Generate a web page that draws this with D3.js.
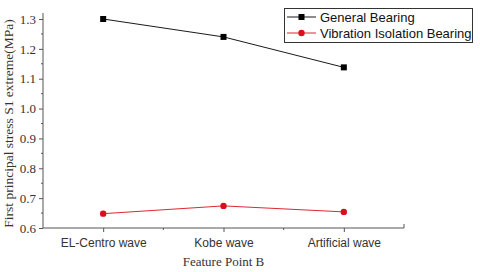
<!DOCTYPE html>
<html>
<head>
<meta charset="utf-8">
<script src="https://cdn.jsdelivr.net/npm/d3@7"></script>
<style>
  body { margin: 0; background: #fff; }
  svg { display: block; }
</style>
</head>
<body>
<script>
// chart data
const categories = ['EL-Centro wave', 'Kobe wave', 'Artificial wave'];
const generalBearing = [1.30, 1.24, 1.138];
const isolationBearing = [0.648, 0.674, 0.654];
const yTicks = [0.6, 0.7, 0.8, 0.9, 1.0, 1.1, 1.2, 1.3];

const width = 480, height = 272;
const plotLeft = 43, plotRight = 404, plotTop = 19, plotBottom = 228;

const svg = d3.select('body').append('svg')
  .attr('width', width)
  .attr('height', height);

const x = d3.scalePoint()
  .domain(categories)
  .range([plotLeft, plotRight])
  .padding(0.5);

const y = d3.scaleLinear()
  .domain([0.6, 1.3])
  .range([plotBottom, plotTop]);

const axisColor = '#555';

// y axis
const yAxis = svg.append('g')
  .attr('transform', `translate(${plotLeft},0)`)
  .call(d3.axisLeft(y).tickValues(yTicks).tickFormat(d3.format('.1f')).tickSize(4).tickPadding(3));
yAxis.select('.domain').attr('stroke', axisColor).attr('d', `M0,${plotBottom}V${plotTop - 6}`);
yAxis.selectAll('.tick line').attr('stroke', axisColor);
yAxis.selectAll('text')
  .style('font-family', '"Liberation Serif", "Times New Roman", serif')
  .style('font-size', '13px')
  .attr('fill', '#333');

// y minor ticks
svg.append('g')
  .selectAll('line')
  .data(yTicks.slice(0, -1).map(d => d + 0.05))
  .enter()
  .append('line')
  .attr('x1', plotLeft - 2)
  .attr('x2', plotLeft)
  .attr('y1', d => y(d))
  .attr('y2', d => y(d))
  .attr('stroke', axisColor);

// x axis
const xAxis = svg.append('g')
  .attr('transform', `translate(0,${plotBottom})`)
  .call(d3.axisBottom(x).tickSize(4).tickPadding(6));
xAxis.select('.domain').attr('stroke', axisColor).attr('d', `M${plotLeft},0H${plotRight}V-4`);
xAxis.selectAll('.tick line').attr('stroke', axisColor);
xAxis.selectAll('text')
  .style('font-family', '"Liberation Sans", Arial, sans-serif')
  .style('font-size', '12px')
  .attr('fill', '#333');

// x minor ticks between categories
const step = x.step();
svg.append('g')
  .selectAll('line')
  .data(categories.slice(0, -1))
  .enter()
  .append('line')
  .attr('x1', d => x(d) + step / 2)
  .attr('x2', d => x(d) + step / 2)
  .attr('y1', plotBottom)
  .attr('y2', plotBottom + 2)
  .attr('stroke', axisColor);

// axis titles
svg.append('text')
  .attr('transform', `translate(13,${(plotTop + plotBottom) / 2}) rotate(-90)`)
  .attr('text-anchor', 'middle')
  .style('font-family', '"Liberation Serif", "Times New Roman", serif')
  .style('font-size', '13.5px')
  .attr('fill', '#333')
  .text('First principal stress S1 extreme(MPa)');

svg.append('text')
  .attr('x', x(categories[1]))
  .attr('y', 266)
  .attr('text-anchor', 'middle')
  .style('font-family', '"Liberation Serif", "Times New Roman", serif')
  .style('font-size', '13px')
  .attr('fill', '#333')
  .text('Feature Point B');

// series
const series = [
  { name: 'General Bearing', values: generalBearing, color: '#000', marker: 'square' },
  { name: 'Vibration Isolation Bearing', values: isolationBearing, color: '#d8101c', marker: 'circle' }
];

const line = d3.line()
  .x((d, i) => x(categories[i]))
  .y(d => y(d));

function drawMarker(g, s, cx, cy) {
  if (s.marker === 'square') {
    g.append('rect')
      .attr('x', cx - 3).attr('y', cy - 3)
      .attr('width', 6).attr('height', 6)
      .attr('fill', s.color);
  } else {
    g.append('circle')
      .attr('cx', cx).attr('cy', cy).attr('r', 3.2)
      .attr('fill', s.color);
  }
}

series.forEach(s => {
  const g = svg.append('g');
  g.append('path')
    .datum(s.values)
    .attr('fill', 'none')
    .attr('stroke', s.color)
    .attr('stroke-width', 0.9)
    .attr('d', line);
  s.values.forEach((v, i) => drawMarker(g, s, x(categories[i]), y(v)));
});

// legend
const legend = svg.append('g');
legend.append('rect')
  .attr('x', 284.5).attr('y', 8.5)
  .attr('width', 188).attr('height', 34)
  .attr('fill', '#fff')
  .attr('stroke', '#333');

series.forEach((s, i) => {
  const ly = 17 + i * 16;
  const g = legend.append('g');
  g.append('line')
    .attr('x1', 287).attr('x2', 316)
    .attr('y1', ly).attr('y2', ly)
    .attr('stroke', s.color)
    .attr('stroke-width', 0.9);
  drawMarker(g, s, 301.5, ly);
  g.append('text')
    .attr('x', 320)
    .attr('y', ly + 4.5)
    .style('font-family', '"Liberation Sans", Arial, sans-serif')
    .style('font-size', '13px')
    .attr('fill', '#111')
    .text(s.name);
});
</script>
</body>
</html>
